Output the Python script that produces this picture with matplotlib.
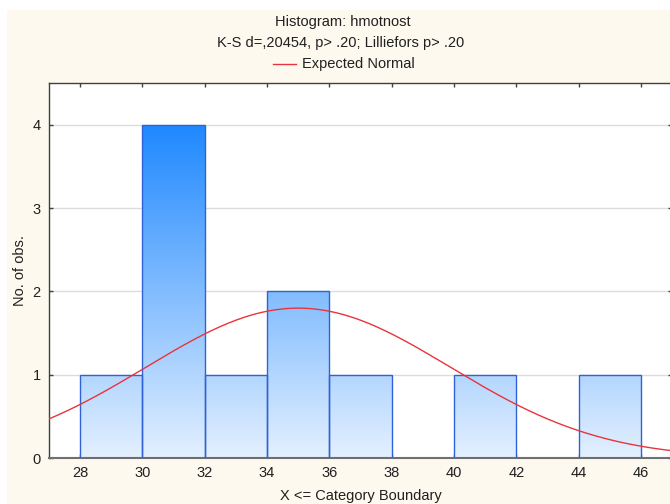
import numpy as np
import matplotlib.pyplot as plt
from matplotlib.patches import Rectangle

plt.rcParams['font.family'] = ['Liberation Sans', 'DejaVu Sans']

# histogram of hmotnost, bin width 2
bin_left = [28, 30, 32, 34, 36, 38, 40, 42, 44]
counts = [1, 4, 1, 2, 1, 0, 1, 0, 1]
bin_width = 2
n_obs = 11
# fitted normal
mu = 35.0
sigma = 4.88

title1 = "Histogram: hmotnost"
title2 = "K-S d=,20454, p> .20; Lilliefors p> .20"
legend_text = "Expected Normal"

fs = 10.5

fig = plt.figure(figsize=(6.7, 5.04), dpi=100, facecolor='white')
fig.patches.append(Rectangle((7/670, 0), 1, 494/504, transform=fig.transFigure,
                             facecolor='#fdf9ee', edgecolor='none', zorder=-10))

ax = fig.add_axes([49/670, 46/504, 623/670, 375/504])
ax.set_facecolor('white')
ax.set_xlim(27, 47)
ax.set_ylim(0, 4.5)

# grid
for yv in [1, 2, 3, 4]:
    ax.axhline(yv, color='#dcdcdc', lw=1, zorder=0)

# gradient bars, colour depends on absolute height
grad = np.linspace(0, 1, 256).reshape(-1, 1)
c_low = np.array([228, 240, 254]) / 255
c_high = np.array([30, 136, 255]) / 255
img = c_low + grad[..., None] * (c_high - c_low)
img = img.reshape(256, 1, 3)
for x0, c in zip(bin_left, counts):
    if c == 0:
        continue
    rect = Rectangle((x0, 0), bin_width, c, facecolor='none',
                     edgecolor='#2f62d6', lw=1, zorder=3)
    ax.add_patch(rect)
    im = ax.imshow(img, extent=(27, 47, 0, 4), origin='lower', aspect='auto',
                   zorder=2, interpolation='bilinear')
    im.set_clip_path(rect)

# expected normal curve
xs = np.linspace(27, 47, 400)
ys = n_obs * bin_width / (sigma * np.sqrt(2 * np.pi)) * np.exp(-0.5 * ((xs - mu) / sigma) ** 2)
ax.plot(xs, ys, color='#e8343c', lw=1, zorder=4)

ax.set_xticks(np.arange(28, 47, 2))
ax.set_yticks([0, 1, 2, 3, 4])
ax.tick_params(axis='both', direction='in', length=3, width=1, color='#404040',
               labelsize=fs, labelcolor='#202020', pad=6,
               top=True, right=True)
for s in ['left', 'top', 'right']:
    ax.spines[s].set_color('#404040')
    ax.spines[s].set_linewidth(1)
ax.spines['bottom'].set_color('#707070')
ax.spines['bottom'].set_linewidth(1.5)

ax.set_xlabel("X <= Category Boundary", fontsize=fs, color='#202020', labelpad=6)
ax.set_ylabel("No. of obs.", fontsize=fs, color='#202020', labelpad=4)

fig.text(343/670, 1 - 22/504, title1, ha='center', va='center', fontsize=fs, color='#202020')
fig.text(341/670, 1 - 43/504, title2, ha='center', va='center', fontsize=fs, color='#202020')
fig.lines.append(plt.Line2D([273/670, 296/670], [1 - 64/504, 1 - 64/504],
                            transform=fig.transFigure, color='#e8343c', lw=1))
fig.text(302/670, 1 - 64/504, legend_text, ha='left', va='center', fontsize=fs, color='#202020')

fig.savefig('out.png', dpi=100, facecolor=fig.get_facecolor())
